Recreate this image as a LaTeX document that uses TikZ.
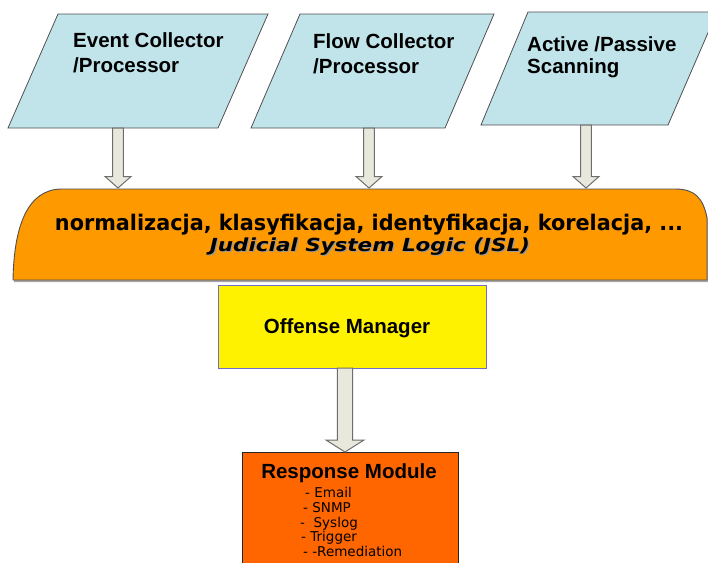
\documentclass[tikz,border=0pt]{standalone}
\usepackage{fontspec}
\setmainfont{Liberation Sans}
\newfontfamily\vfont{DejaVu Sans}
\usetikzlibrary{calc}
\definecolor{paraBlue}{RGB}{192,228,234}
\definecolor{jslOrange}{RGB}{255,153,0}
\definecolor{respOrange}{RGB}{255,102,0}
\definecolor{arrFill}{RGB}{232,232,220}
\definecolor{arrLine}{RGB}{110,110,110}
\definecolor{omBorder}{RGB}{110,110,200}
\definecolor{shapeLine}{RGB}{80,80,80}
\newcommand\blockarrow[5]{%
  \path[blockarr] let \p1=(#1),\p2=(#2) in
    (\x1-#3,\y1) -- (\x1+#3,\y1) -- (\x1+#3,\y2+#5) -- (\x1+#4,\y2+#5)
    -- (\x1,\y2) -- (\x1-#4,\y2+#5) -- (\x1-#3,\y2+#5) -- cycle;}
\tikzset{
  para/.style={fill=paraBlue,draw=shapeLine,line width=0.8pt},
  blockarr/.style={fill=arrFill,draw=arrLine,line width=1pt,line join=miter},
  lbl/.style={anchor=base west,inner sep=0pt,font=\fontsize{20.5}{24}\selectfont\bfseries},
  lst/.style={anchor=base west,inner sep=0pt,font=\vfont\fontsize{13.5}{14}\selectfont}
}
\begin{document}
\begin{tikzpicture}[x=1pt,y=-1pt]
\useasboundingbox (0,0) rectangle (708,562);
\clip (0,0) rectangle (708,562);
\fill[white] (0,0) rectangle (708,562);

% input parallelograms
\draw[para] (58,14) -- (268,14) -- (218,128) -- (8,128) -- cycle;
\draw[para] (300,14) -- (494,14) -- (445,128) -- (251,128) -- cycle;
\draw[para] (528,12) -- (717,12) -- (668,125) -- (481,125) -- cycle;
\coordinate (ev) at (118,128);
\coordinate (fl) at (369,128);
\coordinate (sc) at (586,125);

\node[lbl] (ev1) at (73,47) {Event Collector};
\node[lbl] (ev2) at (73,72) {/Processor};
\node[lbl] (fl1) at (313,48) {Flow Collector};
\node[lbl] (fl2) at (313,73) {/Processor};
\node[lbl] (sc1) at (527,51) {Active /Passive};
\node[lbl] (sc2) at (527,73) {Scanning};

% JSL shape
\fill[black!35] (14,282) .. controls (15,227) and (29,191) .. (63,191) -- (676,191)
  .. controls (696,191) and (704,200) .. (708,220) -- (708,282) -- cycle;
\draw[fill=jslOrange,draw=shapeLine,line width=0.9pt]
  (13,280) .. controls (14,225) and (28,189) .. (62,189) -- (675,189)
  .. controls (695,189) and (703,198) .. (707,218) -- (707,280) -- cycle;
\coordinate (jslL) at (118,188);
\coordinate (jslM) at (369,188);
\coordinate (jslR) at (586,188);

\node[anchor=base,inner sep=0pt] (norm) at (369,230)
  {\resizebox{628pt}{\height}{\vfont\bfseries\fontsize{21.5}{21}\selectfont normalizacja, klasyfikacja, identyfikacja, korelacja, ...}};
\node[anchor=base,inner sep=0pt,text=black!40] (jslS) at (371.2,252.2)
  {\resizebox{320pt}{\height}{\vfont\bfseries\itshape\fontsize{18}{18}\selectfont Judicial System Logic (JSL)}};
\node[anchor=base,inner sep=0pt] (jsl) at (370,251)
  {\resizebox{320pt}{\height}{\vfont\bfseries\itshape\fontsize{18}{18}\selectfont Judicial System Logic (JSL)}};

% arrows into JSL
\blockarrow{ev}{jslL}{5.3pt}{13pt}{11.5pt}
\blockarrow{fl}{jslM}{5.3pt}{13pt}{11.5pt}
\blockarrow{sc}{jslR}{5.3pt}{13pt}{11.5pt}

% Offense manager
\node[draw=omBorder,fill=yellow,line width=1pt,minimum width=268pt,minimum height=83pt,inner sep=0pt]
  (om) at (352,326.5) {};
\node[lbl,anchor=base] (omt) at (347,333) {Offense Manager};

% Response module
\node[draw=black!85,fill=respOrange,line width=1pt,minimum width=216pt,minimum height=130pt,inner sep=0pt,anchor=north]
  (rm) at (350,452) {};
\node[lbl,anchor=base] (rmt) at (349,478) {Response Module};
\node[lst] (i1) at (305,497) {- Email};
\node[lst] (i2) at (303,512) {- SNMP};
\node[lst] (i3) at (300,527) {-\ \ Syslog};
\node[lst] (i4) at (301,541) {- Trigger};
\node[lst] (i5) at (303,556) {- -Remediation};

\coordinate (omB) at (345,368);
\coordinate (rmT) at (345,452);
\blockarrow{omB}{rmT}{7.7pt}{19pt}{12pt}
\end{tikzpicture}
\end{document}
